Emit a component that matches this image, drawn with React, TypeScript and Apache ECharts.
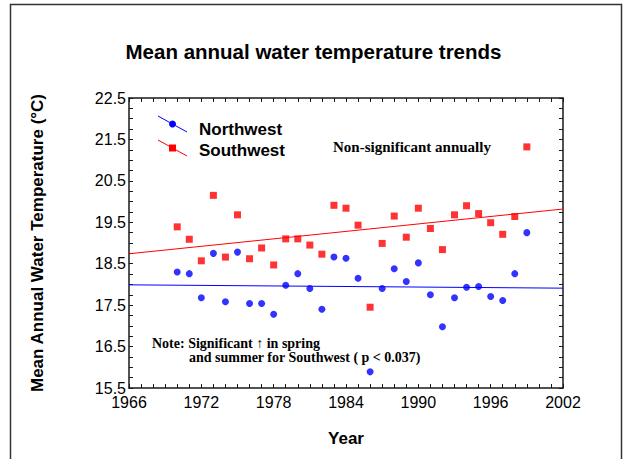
import React, { useEffect, useRef } from "react";
import * as echarts from "echarts";

const years = [1970, 1971, 1972, 1973, 1974, 1975, 1976, 1977, 1978, 1979, 1980, 1981, 1982, 1983, 1984, 1985, 1986, 1987, 1988, 1989, 1990, 1991, 1992, 1993, 1994, 1995, 1996, 1997, 1998, 1999];
const northwest = [18.30, 18.26, 17.68, 18.75, 17.58, 18.78, 17.54, 17.54, 17.28, 17.98, 18.26, 17.90, 17.40, 18.66, 18.63, 18.15, 15.89, 17.90, 18.38, 18.07, 18.52, 17.75, 16.98, 17.68, 17.93, 17.95, 17.71, 17.61, 18.26, 19.25];
const southwest = [19.39, 19.09, 18.57, 20.15, 18.66, 19.68, 18.62, 18.88, 18.47, 19.10, 19.10, 18.95, 18.73, 19.91, 19.84, 19.43, 17.45, 18.99, 19.65, 19.14, 19.84, 19.35, 18.84, 19.68, 19.90, 19.71, 19.49, 19.21, 19.64, 21.32];
const trendYears = [1966, 2002];
const northwestTrend = [17.99, 17.91];
const southwestTrend = [18.74, 19.82];

const SANS = "'Liberation Sans', Arial, sans-serif";
const SERIF = "'Liberation Serif', 'Times New Roman', serif";

export default function App() {
  const ref = useRef<HTMLDivElement>(null);
  useEffect(() => {
    if (!ref.current) return;
    const chart = echarts.init(ref.current, null, { renderer: "svg" });
    const axisLine = { show: true, lineStyle: { color: "#1a1a1a", width: 1.5 } };
    const tick = { show: true, inside: true, length: 4, lineStyle: { color: "#1a1a1a", width: 1 } };
    const xBase = { type: "value", min: 1966, max: 2002, interval: 1, splitLine: { show: false }, axisLine, axisTick: tick };
    const yBase = { type: "value", min: 15.5, max: 22.5, interval: 0.25, splitLine: { show: false }, axisLine, axisTick: tick };
    chart.setOption({
      animation: false,
      backgroundColor: "#fff",
      title: {
        text: "Mean annual water temperature trends",
        left: "center",
        top: 36,
        textStyle: { fontFamily: SANS, fontSize: 20.5, fontWeight: "bold", color: "#000" },
      },
      grid: { left: 129, top: 98, right: 64, bottom: 71 },
      xAxis: [
        {
          ...xBase,
          position: "bottom",
          name: "Year",
          nameLocation: "middle",
          nameGap: 42,
          nameTextStyle: { fontFamily: SANS, fontSize: 17, fontWeight: "bold", color: "#000" },
          axisLabel: {
            margin: 6,
            fontFamily: SANS,
            fontSize: 16,
            color: "#000",
            formatter: (v: number) => ((Math.round(v) - 1966) % 6 === 0 ? String(Math.round(v)) : ""),
          },
        },
        { ...xBase, position: "top", axisLabel: { show: false } },
      ],
      yAxis: [
        {
          ...yBase,
          position: "left",
          name: "Mean Annual Water Temperature (°C)",
          nameLocation: "middle",
          nameGap: 83,
          nameRotate: 90,
          nameTextStyle: { fontFamily: SANS, fontSize: 17, fontWeight: "bold", color: "#000" },
          axisLabel: {
            margin: 3,
            fontFamily: SANS,
            fontSize: 16,
            color: "#000",
            formatter: (v: number) => (Math.round((v - 15.5) * 4) % 4 === 0 ? v.toFixed(1) : ""),
          },
        },
        { ...yBase, position: "right", axisLabel: { show: false } },
      ],
      series: [
        {
          name: "Northwest trend",
          type: "line",
          data: trendYears.map((y, i) => [y, northwestTrend[i]]),
          showSymbol: false,
          lineStyle: { color: "#0000ff", width: 1 },
          silent: true,
        },
        {
          name: "Southwest trend",
          type: "line",
          data: trendYears.map((y, i) => [y, southwestTrend[i]]),
          showSymbol: false,
          lineStyle: { color: "#ff0000", width: 1 },
          silent: true,
        },
        {
          name: "Northwest",
          type: "scatter",
          symbol: "circle",
          symbolSize: 7,
          itemStyle: { color: "#0000ff" },
          data: years.map((y, i) => [y, northwest[i]]),
        },
        {
          name: "Southwest",
          type: "scatter",
          symbol: "rect",
          symbolSize: 7,
          itemStyle: { color: "#ff0000" },
          data: years.map((y, i) => [y, southwest[i]]),
        },
      ],
      graphic: [
        {
          type: "rect",
          shape: { x: 10.5, y: 4.5, width: 611, height: 480 },
          style: { fill: "none", stroke: "#333", lineWidth: 1.5 },
          silent: true,
        },
        { type: "line", shape: { x1: 158, y1: 116, x2: 187, y2: 132 }, style: { stroke: "#0000ff", lineWidth: 1 } },
        { type: "circle", shape: { cx: 172.5, cy: 124, r: 3.5 }, style: { fill: "#0000ff" } },
        { type: "line", shape: { x1: 158, y1: 140, x2: 187, y2: 156 }, style: { stroke: "#ff0000", lineWidth: 1 } },
        { type: "rect", shape: { x: 169, y: 144.5, width: 7, height: 7 }, style: { fill: "#ff0000" } },
        {
          type: "text",
          x: 199,
          y: 129,
          style: { text: "Northwest", fontFamily: SANS, fontSize: 17, fontWeight: "bold", fill: "#000", verticalAlign: "middle" },
        },
        {
          type: "text",
          x: 199,
          y: 150,
          style: { text: "Southwest", fontFamily: SANS, fontSize: 17, fontWeight: "bold", fill: "#000", verticalAlign: "middle" },
        },
        {
          type: "text",
          x: 333,
          y: 147,
          style: { text: "Non-significant annually", fontFamily: SERIF, fontSize: 15, fontWeight: "bold", fill: "#000", verticalAlign: "middle" },
        },
        {
          type: "text",
          x: 152,
          y: 343,
          style: { text: "Note: Significant \u2191 in spring", fontFamily: SERIF, fontSize: 14, fontWeight: "bold", fill: "#000", verticalAlign: "middle" },
        },
        {
          type: "text",
          x: 189,
          y: 357,
          style: { text: "and summer for Southwest ( p < 0.037)", fontFamily: SERIF, fontSize: 14, fontWeight: "bold", fill: "#000", verticalAlign: "middle" },
        },
      ],
    });
    return () => chart.dispose();
  }, []);
  return (
    <div
      ref={ref}
      style={{ position: "fixed", left: 0, top: 0, width: 627, height: 459, background: "#fff" }}
    />
  );
}
